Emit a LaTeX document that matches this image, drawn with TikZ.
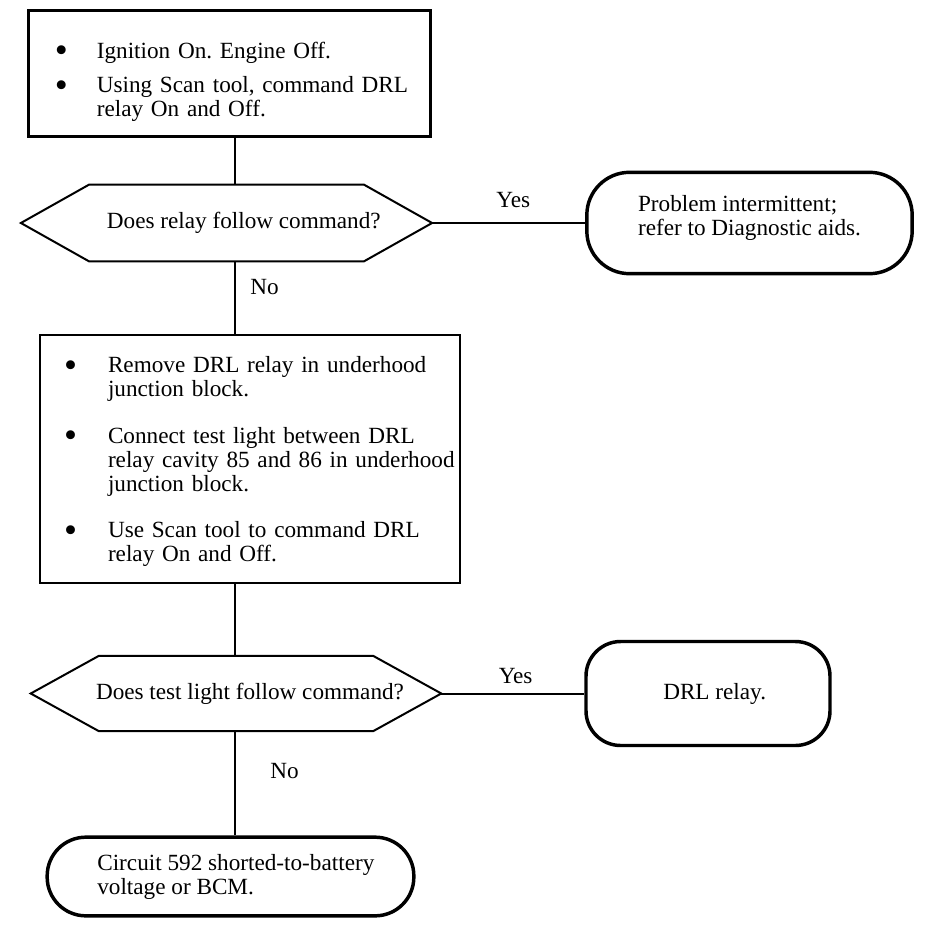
\documentclass[tikz,border=0pt]{standalone}
\usepackage{fontspec}
\setmainfont{Liberation Serif}
\usetikzlibrary{positioning}

\newcommand{\flowfont}{\fontsize{17.4}{18}\selectfont\frenchspacing}
\newcommand{\bulletmark}{\raisebox{-3.4pt}{\scalebox{1.6}{\textbullet}}}

\begin{document}
\begin{tikzpicture}[x=0.75pt, y=-0.75pt,
  box/.style={draw, line width=2.2pt, align=left, font=\flowfont},
  decision/.style={minimum height=57pt, inner sep=0pt, font=\flowfont},
  terminal/.style={draw, line width=2.6pt, align=left, font=\flowfont},
  link/.style={line width=1.5pt},
  answer/.style={font=\flowfont}]

\useasboundingbox (0,0) rectangle (944,934);
\coordinate (spine) at (235,0);

% Steps
\node[box, text width=262pt, inner xsep=19.5pt, minimum height=94pt] (check1) at (229.5,73.5) {%
  \vspace*{13pt}
  \begin{tabular}{@{}p{31.5pt}@{}l@{}}
  \bulletmark & Ignition On. Engine Off.\\[8pt]
  \bulletmark & Using Scan tool, command DRL\\
              & relay On and Off.
  \end{tabular}};

\node[box, text width=279pt, inner xsep=18pt, minimum height=186pt] (check2) at (250,459) {%
  \vspace*{4pt}
  \begin{tabular}{@{}p{33pt}@{}l@{}}
  \bulletmark & Remove DRL relay in underhood\\
              & junction block.\\[17pt]
  \bulletmark & Connect test light between DRL\\
              & relay cavity 85 and 86 in underhood\\
              & junction block.\\[17pt]
  \bulletmark & Use Scan tool to command DRL\\
              & relay On and Off.
  \end{tabular}};

% Questions
\node[decision, minimum width=308pt] (ask1) at (226.5,223) {\hspace*{26pt}Does relay follow command?};
\node[decision, minimum width=307.5pt, minimum height=56pt] (ask2) at (236,693.5) {\hspace*{21pt}Does test light follow command?};

\foreach \q in {ask1,ask2}
  \draw[link] ([xshift=51pt]\q.north west) -- ([xshift=-51pt]\q.north east) -- (\q.east)
    -- ([xshift=-51pt]\q.south east) -- ([xshift=51pt]\q.south west) -- (\q.west) -- cycle;

% Results
\node[terminal, minimum width=244pt, minimum height=76pt, rounded corners=32pt, text depth=12pt] (stop1) at (749.5,223)
  {Problem intermittent;\\refer to Diagnostic aids.};
\node[terminal, minimum width=183pt, minimum height=78pt, rounded corners=26pt] (stop2) at (708,693.5)
  {\hspace*{10pt}DRL relay.};
\node[terminal, minimum width=275pt, minimum height=59pt, rounded corners=29pt] (stop3) at (230.5,876.5)
  {\hspace*{8pt}Circuit 592 shorted-to-battery\\\hspace*{8pt}voltage or BCM.};

% Connectors
\draw[link] (check1.south -| spine) -- (ask1.north -| spine);
\draw[link] (ask1.east) -- node[answer, pos=0.53, above=7pt] {Yes} (stop1.west);
\draw[link] (ask1.south -| spine) -- node[answer, pos=0.36, right=7.5pt] {No} (check2.north -| spine);
\draw[link] (check2.south -| spine) -- (ask2.north -| spine);
\draw[link] (ask2.east) -- node[answer, pos=0.52, above=3.5pt] {Yes} (stop2.west);
\draw[link] (ask2.south -| spine) -- node[answer, pos=0.38, right=22.5pt] {No} (stop3.north -| spine);

\end{tikzpicture}
\end{document}
